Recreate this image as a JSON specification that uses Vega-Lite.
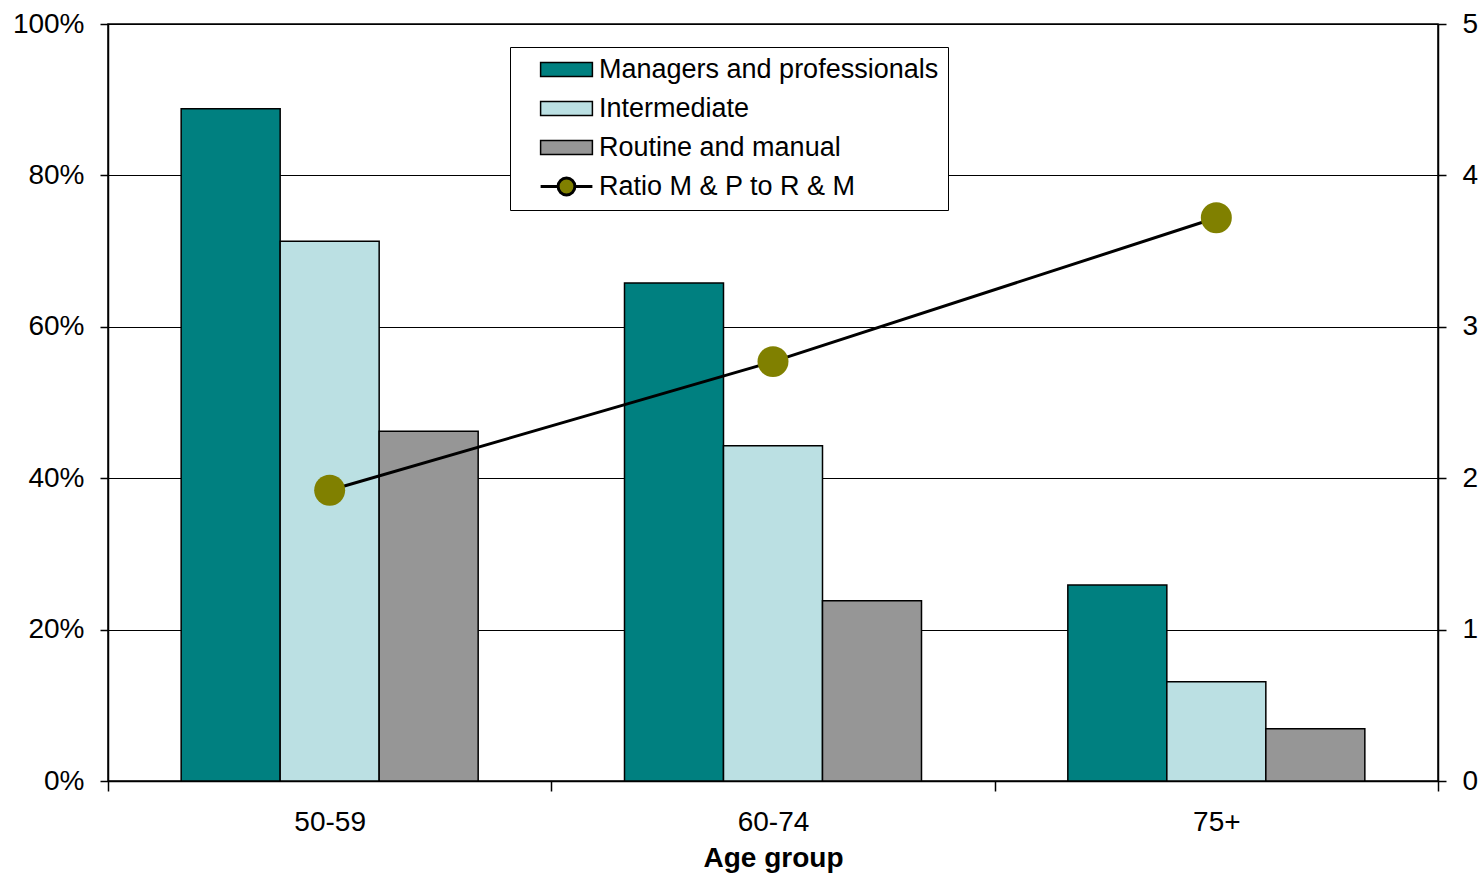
{
  "$schema": "https://vega.github.io/schema/vega-lite/v6.json",
  "width": 1330,
  "height": 757,
  "autosize": {"type": "none"},
  "padding": {"left": 108, "top": 24, "right": 44, "bottom": 93},
  "background": "white",
  "config": {
    "font": "Liberation Sans",
    "view": {"stroke": "black", "strokeWidth": 1.5},
    "axis": {"labelFont": "Liberation Sans", "labelColor": "black", "titleColor": "black", "domainColor": "black", "tickColor": "black", "gridColor": "black", "domainWidth": 1.5, "tickWidth": 1.5, "gridWidth": 1.2, "gridOpacity": 1}
  },
  "datasets": {
    "bars": [
      {"age": "50-59", "series": "Managers and professionals", "share": 0.888},
      {"age": "50-59", "series": "Intermediate", "share": 0.713},
      {"age": "50-59", "series": "Routine and manual", "share": 0.462},
      {"age": "60-74", "series": "Managers and professionals", "share": 0.658},
      {"age": "60-74", "series": "Intermediate", "share": 0.443},
      {"age": "60-74", "series": "Routine and manual", "share": 0.238},
      {"age": "75+", "series": "Managers and professionals", "share": 0.259},
      {"age": "75+", "series": "Intermediate", "share": 0.131},
      {"age": "75+", "series": "Routine and manual", "share": 0.069}
    ],
    "ratio": [
      {"age": "50-59", "ratio": 1.92},
      {"age": "60-74", "ratio": 2.77},
      {"age": "75+", "ratio": 3.72}
    ]
  },
  "layer": [
    {
      "data": {"name": "bars"},
      "mark": {"type": "bar", "stroke": "black", "strokeWidth": 1.5},
      "encoding": {
        "x": {
          "field": "age", "type": "nominal",
          "scale": {"paddingInner": 0, "paddingOuter": 0},
          "axis": {"title": "Age group", "titleFontSize": 28, "titleFontWeight": "bold", "titleFont": "Liberation Sans", "titlePadding": 8, "labelFontSize": 28, "labelAngle": 0, "tickBand": "extent", "tickSize": 10, "labelPadding": 17}
        },
        "xOffset": {
          "field": "series", "type": "nominal",
          "scale": {"domain": ["Managers and professionals", "Intermediate", "Routine and manual"], "paddingInner": 0, "paddingOuter": 0.739}
        },
        "y": {
          "field": "share", "type": "quantitative",
          "scale": {"domain": [0, 1], "nice": false},
          "axis": {"title": null, "format": ".0%", "values": [0, 0.2, 0.4, 0.6, 0.8, 1], "grid": true, "labelFontSize": 28, "tickSize": 8, "labelPadding": 16}
        },
        "color": {
          "field": "series", "type": "nominal",
          "scale": {
            "domain": ["Managers and professionals", "Intermediate", "Routine and manual", "Ratio M & P to R & M"],
            "range": ["#008080", "#BBE0E3", "#969696", "#808000"]
          },
          "legend": {
            "title": null,
            "orient": "none",
            "legendX": 402,
            "legendY": 23,
            "padding": 9,
            "strokeColor": "black",
            "fillColor": "white",
            "labelFontSize": 27,
            "labelFont": "Liberation Sans",
            "labelColor": "black",
            "labelLimit": 0,
            "symbolSize": 196,
            "symbolOffset": 34,
            "labelOffset": 19,
            "rowPadding": 11,
            "symbolStrokeColor": "black",
            "symbolStrokeWidth": 1.5,
            "encode": {
              "symbols": {
                "update": {
                  "shape": {"signal": "datum.value === 'Ratio M & P to R & M' ? 'M-3.7,0H-1.2M1.2,0H3.7M-1.2,0A1.2,1.2 0 1 1 1.2,0A1.2,1.2 0 1 1 -1.2,0Z' : 'M-3.7,-1H3.7V1H-3.7Z'"},
                  "strokeWidth": {"signal": "datum.value === 'Ratio M & P to R & M' ? 3 : 1.5"},
                  "stroke": {"value": "black"},
                  "opacity": {"value": 1}
                }
              }
            }
          }
        }
      }
    },
    {
      "data": {"name": "ratio"},
      "mark": {"type": "line", "color": "black", "strokeWidth": 3},
      "encoding": {
        "x": {"field": "age", "type": "nominal"},
        "y": {
          "field": "ratio", "type": "quantitative",
          "scale": {"domain": [0, 5], "nice": false},
          "axis": {"orient": "right", "title": null, "values": [0, 1, 2, 3, 4, 5], "grid": false, "labelFontSize": 28, "tickSize": 8, "labelPadding": 16}
        }
      }
    },
    {
      "data": {"name": "ratio"},
      "mark": {"type": "circle", "size": 960, "opacity": 1},
      "encoding": {
        "x": {"field": "age", "type": "nominal"},
        "y": {"field": "ratio", "type": "quantitative", "scale": {"domain": [0, 5], "nice": false}, "axis": null},
        "color": {"datum": "Ratio M & P to R & M", "type": "nominal"}
      }
    }
  ],
  "resolve": {"scale": {"y": "independent"}}
}
